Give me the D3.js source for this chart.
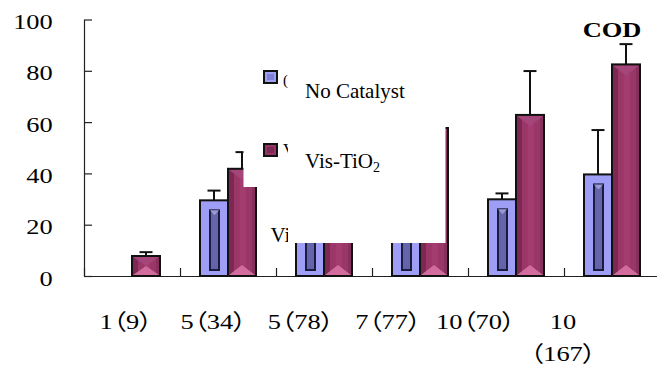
<!DOCTYPE html>
<html>
<head>
<meta charset="utf-8">
<script src="https://cdn.jsdelivr.net/npm/d3@7"></script>
<style>
  html, body { margin: 0; padding: 0; background: #fff; }
  svg { display: block; }
  text { font-family: "Liberation Serif", "Noto Sans CJK SC", serif; fill: #000; }
  .cjk { font-feature-settings: "palt"; }
</style>
</head>
<body>
<script>
// Categories: dose (reaction time) groups
const categories = ["1（9）", "5（34）", "5（78）", "7（77）", "10（70）", "10（167）"];
const categoryLines = [["1（9）"], ["5（34）"], ["5（78）"], ["7（77）"], ["10（70）"], ["10", "（167）"]];
const seriesNames = ["No Catalyst", "Vis-TiO2"];

// COD removal (%) and error bar lengths
const noCatalyst    = [0, 29.5, 34, 30, 29.9, 39.6];
const noCatalystErr = [0, 3.8, 3, 4, 2.3, 17.3];
const visTiO2       = [7.8, 41.8, 50, 57.7, 62.8, 82.5];
const visTiO2Err    = [1.5, 6.5, 8, 10, 17.1, 7.9];

const yTicks = [0, 20, 40, 60, 80, 100];

const W = 657, H = 374;
const svg = d3.select("body").append("svg").attr("width", W).attr("height", H);

const x0 = d3.scaleBand().domain(categories).range([84, 660]).padding(0);
const x1 = d3.scaleBand().domain(seriesNames)
  .range([x0.bandwidth() / 2 - 28, x0.bandwidth() / 2 + 28]).padding(0);
const y = d3.scaleLinear().domain([0, 100]).range([276, 19.5]);
const labelX = d3.scalePoint().domain(categories).range([126, 563]);

const STRETCH = 1.2;

// Y axis with inward ticks
const yAxis = svg.append("g").attr("transform", "translate(84,0)")
  .call(d3.axisLeft(y).tickValues(yTicks).tickSizeInner(-8).tickSizeOuter(0));
yAxis.select(".domain").attr("stroke", "#222").attr("stroke-width", 1.2);
yAxis.selectAll(".tick line").attr("stroke", "#222").attr("stroke-width", 1.2);
yAxis.selectAll(".tick text")
  .attr("x", null).attr("dy", null)
  .attr("text-anchor", "end")
  .attr("font-size", 22)
  .attr("font-family", "Liberation Serif")
  .attr("transform", `translate(${52.7 - 84},9) scale(${STRETCH},1)`);

// X axis: baseline with ticks on category boundaries
const xb = d3.scaleLinear().domain([0, categories.length]).range(x0.range());
const xAxis = svg.append("g").attr("transform", `translate(0,${y(0)})`)
  .call(d3.axisBottom(xb).ticks(categories.length).tickSizeInner(-8).tickSizeOuter(0).tickFormat(""));
xAxis.select(".domain").attr("stroke", "#222").attr("stroke-width", 1.2);
xAxis.selectAll(".tick line").attr("stroke", "#222").attr("stroke-width", 1.2);

// Category labels
categories.forEach((c, i) => {
  categoryLines[i].forEach((line, j) => {
    svg.append("text").attr("class", "cjk")
      .attr("text-anchor", "middle")
      .attr("font-size", 22)
      .attr("transform", `translate(${labelX(c)},${329 + j * 32}) scale(${STRETCH},1)`)
      .text(line);
  });
});

// Bars
const bw = x1.bandwidth();
function blueBar(g, xL, v) {
  const top = y(v), bot = y(0), h = bot - top;
  g.append("rect").attr("x", xL).attr("y", top).attr("width", bw).attr("height", h)
    .attr("fill", "#9e9ef7").attr("stroke", "#111").attr("stroke-width", 2);
  if (h > 22) {
    g.append("rect").attr("x", xL + 10).attr("y", top + 10).attr("width", bw - 19).attr("height", h - 16)
      .attr("fill", "#6464ac").attr("stroke", "#1c1c3a").attr("stroke-width", 2);
    g.append("path")
      .attr("d", `M${xL + 10},${top + 10}L${xL + bw - 9},${top + 10}L${xL + bw / 2 + 0.5},${top + 15}Z`)
      .attr("fill", "#9a9ad8");
  }
}
function magentaBar(g, xL, v) {
  const top = y(v), bot = y(0), h = bot - top;
  g.append("rect").attr("x", xL).attr("y", top).attr("width", bw).attr("height", h)
    .attr("fill", "#9a3668");
  g.append("rect").attr("x", xL + 1).attr("y", top + 1).attr("width", 5).attr("height", h - 2)
    .attr("fill", "#7c2852");
  g.append("rect").attr("x", xL + bw - 4).attr("y", top + 1).attr("width", 3).attr("height", h - 2)
    .attr("fill", "#86305c");
  g.append("rect").attr("x", xL + bw * 0.42).attr("y", top + 1).attr("width", bw * 0.22).attr("height", h - 2)
    .attr("fill", "#a33d6f");
  const tri = Math.min(10, h / 2 - 1);
  g.append("path")
    .attr("d", `M${xL + 1},${top + 1}L${xL + bw - 1},${top + 1}L${xL + bw / 2},${top + 1 + tri}Z`)
    .attr("fill", "#a4467a");
  g.append("path")
    .attr("d", `M${xL + 1},${bot - 1}L${xL + bw - 1},${bot - 1}L${xL + bw / 2},${bot - 1 - tri}Z`)
    .attr("fill", "#d26c9e");
  g.append("rect").attr("x", xL).attr("y", top).attr("width", bw).attr("height", h)
    .attr("fill", "none").attr("stroke", "#111").attr("stroke-width", 2);
}
function errBar(g, xc, v, e) {
  if (!e) return;
  g.append("line").attr("x1", xc).attr("x2", xc).attr("y1", y(v)).attr("y2", y(v + e))
    .attr("stroke", "#111").attr("stroke-width", 2);
  g.append("line").attr("x1", xc - 6.5).attr("x2", xc + 6.5).attr("y1", y(v + e)).attr("y2", y(v + e))
    .attr("stroke", "#111").attr("stroke-width", 2);
}

const bars = svg.append("g");
categories.forEach((c, i) => {
  const xa = x0(c) + x1(seriesNames[0]);
  const xm = x0(c) + x1(seriesNames[1]);
  if (noCatalyst[i] > 0) { blueBar(bars, xa, noCatalyst[i]); errBar(bars, xa + bw / 2, noCatalyst[i], noCatalystErr[i]); }
  if (visTiO2[i] > 0) { magentaBar(bars, xm, visTiO2[i]); errBar(bars, xm + bw / 2, visTiO2[i], visTiO2Err[i]); }
});

// Legend box (its labels run under the series name box)
const legend = svg.append("g");
legend.append("rect").attr("x", 243.5).attr("y", 50).attr("width", 60).attr("height", 137).attr("fill", "#fff");
const swatch = [
  { y: 70, outer: "#a0a0f2", inner: "#8080d8", label: "(", ty: 85, fs: 15 },
  { y: 143, outer: "#973264", inner: "#7a2a54", label: "V", ty: 155, fs: 17 }
];
swatch.forEach(s => {
  legend.append("rect").attr("x", 264).attr("y", s.y + 1).attr("width", 13).attr("height", 12)
    .attr("fill", s.outer).attr("stroke", "#111").attr("stroke-width", 2);
  legend.append("rect").attr("x", 267).attr("y", s.y + 4).attr("width", 7).attr("height", 6)
    .attr("fill", s.inner);
  legend.append("text").attr("x", 283).attr("y", s.ty).attr("font-size", s.fs).text(s.label);
});
svg.append("text").attr("x", 270.5).attr("y", 242).attr("font-size", 21).text("Vi");

// Series name box
const names = svg.append("g");
names.append("rect").attr("x", 288).attr("y", 45).attr("width", 157.5).attr("height", 198).attr("fill", "#fff");
names.append("text").attr("x", 305).attr("y", 98.3).attr("font-size", 21).text(seriesNames[0]);
const t2 = names.append("text").attr("x", 305).attr("y", 168).attr("font-size", 21);
t2.append("tspan").text("Vis-TiO");
t2.append("tspan").attr("font-size", 14).attr("dy", 4).text("2");

// Title
svg.append("text")
  .attr("text-anchor", "middle")
  .attr("font-size", 22).attr("font-weight", "bold")
  .attr("transform", `translate(${x0(categories[5]) + x0.bandwidth() / 2},37.3) scale(${STRETCH},1)`)
  .text("COD");
</script>
</body>
</html>
